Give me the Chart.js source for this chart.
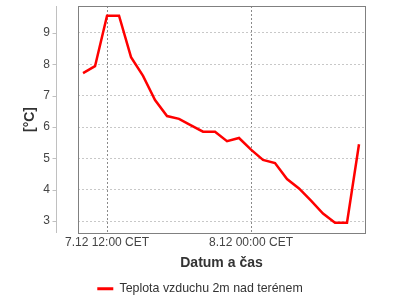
<!DOCTYPE html>
<html>
<head>
<meta charset="utf-8">
<script src="https://cdn.jsdelivr.net/npm/chart.js@4/dist/chart.umd.min.js"></script>
<style>
  body { margin: 0; background: #fff; }
  #wrap { width: 400px; height: 300px; }
</style>
</head>
<body>
<div id="wrap"><canvas id="graf"></canvas></div>
<script>
// hodiny od 7.12 00:00
const hodiny = [10, 11, 12, 13, 14, 15, 16, 17, 18, 19, 20, 21, 22, 23, 24, 25, 26, 27, 28, 29, 30, 31, 32, 33];
const teplota = [7.72, 7.94, 9.55, 9.55, 8.23, 7.63, 6.86, 6.35, 6.26, 6.05, 5.85, 5.85, 5.55, 5.65, 5.28, 4.95, 4.85, 4.34, 4.04, 3.65, 3.24, 2.95, 2.95, 5.45];
const xTicky = [12, 24];
const xPopisky = ['7.12 12:00 CET', '8.12 00:00 CET'];
const yTicky = [3, 4, 5, 6, 7, 8, 9];

// ramecek grafu a odsazena osa y
const ramecek = {
  id: 'ramecek',
  afterDraw(chart) {
    const { ctx, chartArea: a } = chart;
    const y = chart.scales.y;
    ctx.save();
    ctx.strokeStyle = '#808080';
    ctx.lineWidth = 1;
    ctx.strokeRect(a.left + 0.5, a.top + 0.5, a.right - a.left, a.bottom - a.top);
    const osaX = a.left - 21.5;
    ctx.strokeStyle = '#c0c0c0';
    ctx.beginPath();
    ctx.moveTo(osaX, a.top);
    ctx.lineTo(osaX, a.bottom);
    yTicky.forEach(v => {
      const py = Math.round(y.getPixelForValue(v)) + 0.5;
      ctx.moveTo(osaX - 4, py);
      ctx.lineTo(osaX, py);
    });
    ctx.stroke();
    ctx.restore();
  }
};

const ctx = document.getElementById('graf').getContext('2d');
const graf = new Chart(ctx, {
  type: 'line',
  data: {
    datasets: [{
      label: 'Teplota vzduchu 2m nad terénem',
      data: hodiny.map((h, i) => ({ x: h, y: teplota[i] })),
      borderColor: '#ff0000',
      backgroundColor: '#ff0000',
      borderWidth: 2.5,
      pointRadius: 0,
      tension: 0
    }]
  },
  options: {
    responsive: true,
    maintainAspectRatio: false,
    animation: false,
    layout: { padding: { left: 0, right: 0, top: 6, bottom: -5 } },
    plugins: {
      tooltip: { enabled: false },
      legend: {
        position: 'bottom',
        labels: {
          boxWidth: 16,
          boxHeight: 3,
          padding: 5,
          color: '#333',
          font: { family: 'Liberation Sans', size: 12.4 },
          generateLabels: chart => Chart.defaults.plugins.legend.labels.generateLabels(chart)
            .map(l => ({ ...l, lineWidth: 0 }))
        }
      }
    },
    scales: {
      x: {
        type: 'linear',
        min: 9.58,
        max: 33.5,
        afterFit: s => { s.height = 44.6; s.paddingLeft = 0; s.paddingRight = 0; },
        afterBuildTicks: s => { s.ticks = xTicky.map(v => ({ value: v })); },
        ticks: {
          padding: 2,
          color: '#444',
          font: { family: 'Liberation Sans', size: 12 },
          maxRotation: 0,
          callback: v => xPopisky[xTicky.indexOf(v)]
        },
        grid: { color: '#8a8a8a', drawTicks: false },
        border: { display: false, dash: [2, 2] },
        title: {
          display: true,
          text: 'Datum a čas',
          color: '#333',
          padding: { top: 0, bottom: 6 },
          font: { family: 'Liberation Sans', size: 14, weight: 'bold' }
        }
      },
      y: {
        min: 2.62,
        max: 9.86,
        afterFit: s => { s.width = 78; s.paddingTop = 0; s.paddingBottom = 0; },
        afterBuildTicks: s => { s.ticks = yTicky.map(v => ({ value: v })); },
        ticks: {
          padding: 28,
          color: '#444',
          font: { family: 'Liberation Sans', size: 12 }
        },
        grid: { color: '#c8c8c8', drawTicks: false },
        border: { display: false, dash: [2, 2] },
        title: {
          display: true,
          text: '[°C]',
          color: '#333',
          padding: { top: 22, bottom: 0 },
          font: { family: 'Liberation Sans', size: 14, weight: 'bold' }
        }
      },
      // prazdny pravy okraj, aby legenda zustala na stredu
      okraj: {
        position: 'right',
        afterFit: s => { s.width = 35; s.paddingTop = 0; s.paddingBottom = 0; },
        ticks: { display: false },
        grid: { display: false },
        border: { display: false }
      }
    }
  },
  plugins: [ramecek]
});
</script>
</body>
</html>
